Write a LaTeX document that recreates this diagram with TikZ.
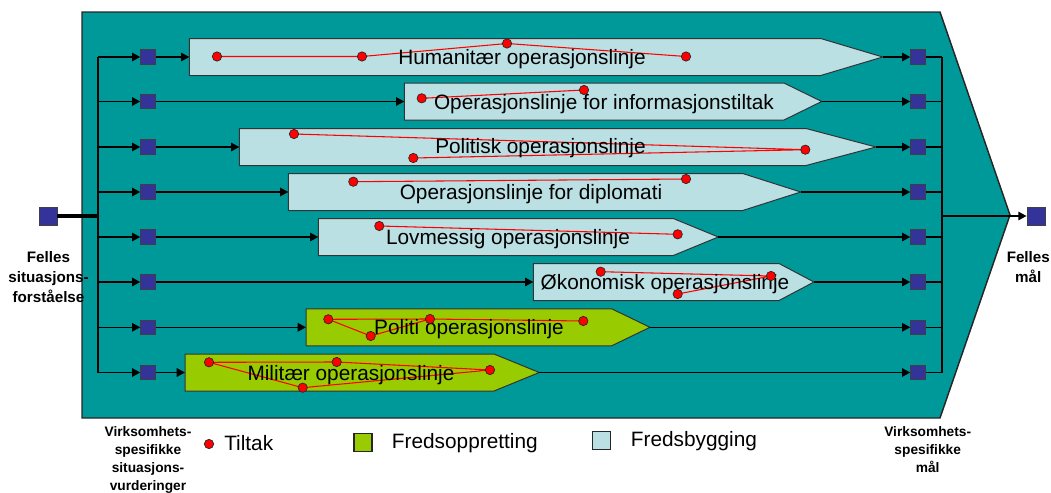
\documentclass[tikz,border=0pt]{standalone}
\usepackage{fontspec}
\setmainfont{Liberation Sans}
\usetikzlibrary{arrows.meta}

\definecolor{planfill}{HTML}{009999}
\definecolor{sqblue}{HTML}{333399}
\definecolor{pbuild}{HTML}{BBE0E3}
\definecolor{pforce}{HTML}{99CC00}
\definecolor{tiered}{HTML}{FF0000}

\pgfdeclarelayer{bg}
\pgfdeclarelayer{ties}
\pgfsetlayers{bg,ties,main}

\tikzset{
  conn/.style={line width=1.1pt, black},
  arr/.style={conn, -{Triangle[length=6.2pt,width=6.4pt]}},
  goalsq/.style={draw=black!75, fill=sqblue, minimum size=10.9pt, inner sep=0pt, line width=0.7pt},
  mainsq/.style={goalsq, minimum size=13.5pt},
  lineshape/.style={draw=black!80, line width=0.75pt},
  peace/.style={lineshape, fill=pbuild},
  force/.style={lineshape, fill=pforce},
  tiltak/.style={circle, fill=tiered, draw=black!85, line width=0.5pt, minimum size=7pt, inner sep=0pt},
  tie/.style={tiered, line width=0.8pt},
  oplabel/.style={font=\fontsize{15.6}{18}\selectfont, anchor=base, inner sep=0pt},
  legtext/.style={font=\fontsize{15.6}{18}\selectfont, anchor=base west, inner sep=0pt},
  legsq/.style={draw=black!85, minimum size=13.5pt, inner sep=0pt, line width=1pt},
  side/.style={font=\bfseries\fontsize{11.4}{15}\selectfont, align=center, inner sep=0pt, anchor=north},
  small/.style={font=\bfseries\fontsize{10.3}{13.3}\selectfont, align=center, inner sep=0pt, anchor=north},
}

% operation line: name, row y, left x, shoulder x, tip x, style
\newcommand\opbox[6]{%
  \draw[#6] (#3,#2-18.5) -- (#4,#2-18.5) -- (#5,#2) -- (#4,#2+18.5) -- (#3,#2+18.5) -- cycle;
  \coordinate (#1-in) at (#3,#2);
  \coordinate (#1-out) at (#5,#2);
}

\begin{document}
\begin{tikzpicture}[x=0.75pt, y=-0.75pt]
\useasboundingbox (0,0) rectangle (1051,493);

\begin{pgfonlayer}{bg}
  % the common frame
  \draw[fill=planfill, draw=black!85, line width=1.1pt]
    (82,12) -- (940,12) -- (1010,215) -- (940,418) -- (82,418) -- cycle;
  % operation lines
  \opbox{hum}{57}{189.3}{820.7}{882.7}{peace}
  \opbox{inf}{101.5}{404.3}{784}{821.7}{peace}
  \opbox{pol}{147}{239.3}{806}{876}{peace}
  \opbox{dip}{192}{288.3}{742.7}{800.7}{peace}
  \opbox{lov}{237}{318.3}{673.3}{718.3}{peace}
  \opbox{oko}{282}{533.3}{779}{814}{peace}
  \opbox{pti}{327.3}{306}{611.7}{650}{force}
  \opbox{mil}{372.5}{185}{494}{539.3}{force}
\end{pgfonlayer}

% squares
\node[mainsq] (L) at (48,216) {};
\node[mainsq] (G) at (1036,216) {};
\foreach \i/\y in {1/57,2/101.5,3/147,4/192,5/237,6/282,7/327.3,8/372.5}{
  \node[goalsq] (s\i) at (148,\y) {};
  \node[goalsq] (e\i) at (918,\y) {};
}
\coordinate (lsp) at (98,216);
\coordinate (rsp) at (942,216);

% left distribution
\draw[conn, line width=2.4pt] (L.east) -- (lsp);
\draw[conn] (lsp |- s1) -- (lsp |- s8);
\foreach \i in {1,...,8}{
  \draw[arr] (lsp |- s\i) -- (s\i);
}
% into the operation lines
\foreach \i/\n in {1/hum,2/inf,3/pol,4/dip,5/lov,6/oko,7/pti,8/mil}{
  \draw[arr] (s\i) -- (\n-in);
  \draw[arr] (\n-out) -- (e\i);
  \draw[conn] (e\i) -- (rsp |- e\i);
}
% right collection
\draw[conn] (rsp |- e1) -- (rsp |- e8);
\draw[arr] (rsp) -- (G);

% line labels
\node[oplabel] (hum-t) at (522,64.5) {Humanitær operasjonslinje};
\node[oplabel] (inf-t) at (604,109.3) {Operasjonslinje for informasjonstiltak};
\node[oplabel] (pol-t) at (540.5,153.8) {Politisk operasjonslinje};
\node[oplabel] (dip-t) at (531,199.3) {Operasjonslinje for diplomati};
\node[oplabel] (lov-t) at (508,244.3) {Lovmessig operasjonslinje};
\node[oplabel] (oko-t) at (665,289.3) {Økonomisk operasjonslinje};
\node[oplabel] (pti-t) at (469,334.8) {Politi operasjonslinje};
\node[oplabel] (mil-t) at (351,380.5) {Militær operasjonslinje};

% measures
\node[tiltak] (t1a) at (217,56.5) {};
\node[tiltak] (t1b) at (362,56.5) {};
\node[tiltak] (t1c) at (507,43.5) {};
\node[tiltak] (t1d) at (686,56.5) {};
\node[tiltak] (t2a) at (421.7,98.3) {};
\node[tiltak] (t2b) at (584,90) {};
\node[tiltak] (t3a) at (294,134) {};
\node[tiltak] (t3b) at (805.3,149.7) {};
\node[tiltak] (t3c) at (413.3,158) {};
\node[tiltak] (t4a) at (353.3,181.7) {};
\node[tiltak] (t4b) at (686,179) {};
\node[tiltak] (t5a) at (379.3,226) {};
\node[tiltak] (t5b) at (677.7,234.3) {};
\node[tiltak] (t6a) at (600.7,271.7) {};
\node[tiltak] (t6b) at (771,276) {};
\node[tiltak] (t6c) at (677.7,294) {};
\node[tiltak] (t7a) at (328.3,319.3) {};
\node[tiltak] (t7b) at (370.7,336) {};
\node[tiltak] (t7c) at (430,319) {};
\node[tiltak] (t7d) at (583.3,321) {};
\node[tiltak] (t8a) at (209,362.3) {};
\node[tiltak] (t8b) at (336.7,362) {};
\node[tiltak] (t8c) at (490,370) {};
\node[tiltak] (t8d) at (302.7,387.7) {};

\begin{pgfonlayer}{ties}
  \draw[tie] (t1a.center) -- (t1b.center) -- (t1c.center) -- (t1d.center);
  \draw[tie] (t2a.center) -- (t2b.center);
  \draw[tie] (t3a.center) -- (t3b.center) -- (t3c.center);
  \draw[tie] (t4a.center) -- (t4b.center);
  \draw[tie] (t5a.center) -- (t5b.center);
  \draw[tie] (t6a.center) -- (t6b.center) -- (t6c.center);
  \draw[tie] (t7a.center) -- (t7b.center) -- (t7c.center);
  \draw[tie] (t7a.center) -- (t7c.center) -- (t7d.center);
  \draw[tie] (t8a.center) -- (t8b.center) -- (t8c.center) -- (t8d.center) -- cycle;
\end{pgfonlayer}

% side captions
\node[side] (fs) at (48.5,251.5) {Felles\\situasjons-\\forståelse};
\node[side] (fm) at (1028.3,251.5) {Felles\\mål};
\node[small] (vs) at (148,426.7) {Virksomhets-\\spesifikke\\situasjons-\\vurderinger};
\node[small] (vm) at (927.7,426.7) {Virksomhets-\\spesifikke\\mål};

% legend
\node[tiltak] (lg1) at (209,444) {};
\node[legtext] (lg1t) at (224,450.7) {Tiltak};
\node[legsq, fill=pforce] (lg2) at (363,442.5) {};
\node[legtext] (lg2t) at (391.7,448) {Fredsoppretting};
\node[legsq, fill=pbuild] (lg3) at (601.7,440.5) {};
\node[legtext] (lg3t) at (630.7,446) {Fredsbygging};
\end{tikzpicture}
\end{document}
